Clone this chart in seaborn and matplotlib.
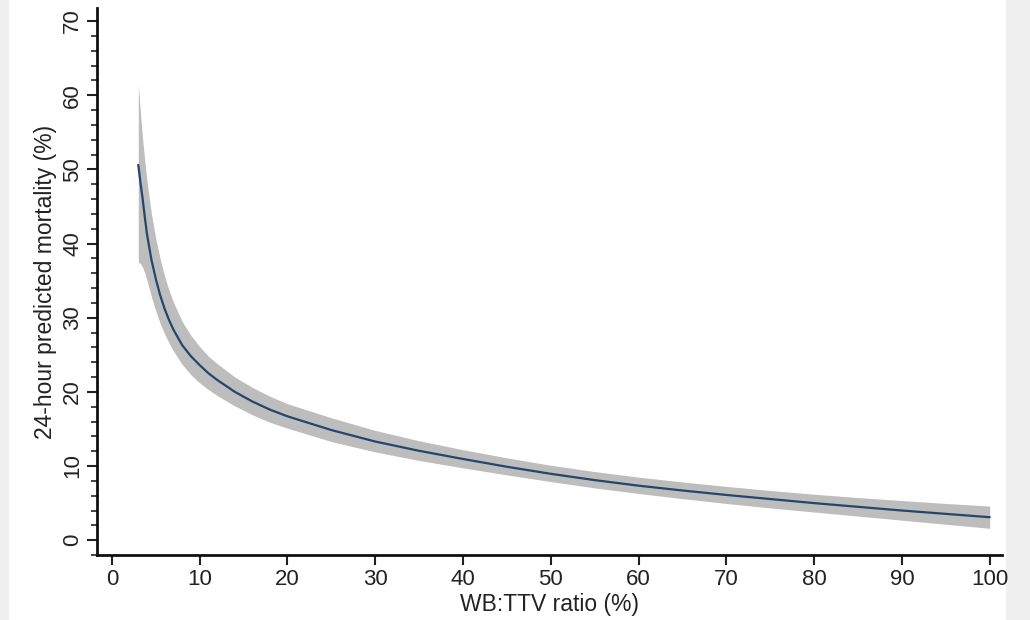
import numpy as np
import pandas as pd
import matplotlib
matplotlib.use("Agg")
import matplotlib.pyplot as plt
from matplotlib.patches import Rectangle
from matplotlib.ticker import MultipleLocator
import seaborn as sns

sns.set_style("white")
plt.rcParams['font.family'] = ['Liberation Sans', 'DejaVu Sans']

# values
ratio = [3, 3.25, 3.5, 3.75, 4, 4.5, 5, 5.5, 6, 6.5, 7, 8, 9, 10, 11, 12, 14, 16,
         18, 20, 25, 30, 35, 40, 45, 50, 55, 60, 65, 70, 75, 80, 85, 90, 95, 100]
mortality = [50.6, 48.2, 46.0, 43.5, 41.2, 37.8, 35.2, 33.0, 31.2, 29.7, 28.4,
             26.3, 24.8, 23.6, 22.5, 21.6, 20.0, 18.7, 17.6, 16.7, 14.85, 13.3,
             12.05, 10.95, 9.9, 8.95, 8.1, 7.35, 6.7, 6.1, 5.55, 5.0, 4.5, 4.0,
             3.55, 3.1]
upper = [61.5, 57.5, 54.0, 51.0, 48.3, 44.0, 40.6, 37.9, 35.6, 33.7, 32.1, 29.5,
         27.6, 26.1, 24.8, 23.8, 22.0, 20.6, 19.4, 18.4, 16.5, 14.8, 13.4, 12.2,
         11.1, 10.1, 9.25, 8.5, 7.85, 7.25, 6.7, 6.2, 5.75, 5.35, 4.95, 4.6]
lower = [37.5, 37.3, 36.8, 36.0, 35.0, 32.8, 30.9, 29.2, 27.8, 26.6, 25.5, 23.7,
         22.3, 21.2, 20.3, 19.5, 18.1, 16.9, 15.9, 15.1, 13.3, 11.9, 10.75, 9.75,
         8.8, 7.9, 7.05, 6.3, 5.6, 4.95, 4.35, 3.8, 3.25, 2.7, 2.15, 1.6]

df = pd.DataFrame({'ratio': ratio, 'mortality': mortality, 'upper': upper, 'lower': lower})

fig = plt.figure(figsize=(10.3, 6.2), dpi=100)
fig.patch.set_facecolor('white')
# light gray side strips from the screenshot
fig.patches.append(Rectangle((0, 0), 8 / 1030, 1, transform=fig.transFigure,
                             color='#f0f0f0', zorder=-5))
fig.patches.append(Rectangle((1006 / 1030, 0), 24 / 1030, 1, transform=fig.transFigure,
                             color='#f0f0f0', zorder=-5))

ax = fig.add_axes([0.0942, 0.1048, 0.8786, 0.8822])
ax.set_facecolor('none')
ax.fill_between(df['ratio'], df['lower'], df['upper'], color='#bdbdbd', lw=0, zorder=1)
sns.lineplot(data=df, x='ratio', y='mortality', ax=ax, color='#24466a', lw=1.6, zorder=2)

ax.set_xlim(-1.7, 101.4)
ax.set_ylim(-2.0, 71.75)
ax.set_xticks(range(0, 101, 10))
ax.set_yticks(range(0, 71, 10))
ax.yaxis.set_minor_locator(MultipleLocator(2))
ax.tick_params(axis='both', which='major', direction='out', length=7, width=1.5,
               labelsize=16, colors='#222222', bottom=True, left=True, pad=3)
ax.tick_params(axis='y', which='minor', direction='out', length=4, width=1.2,
               left=True, colors='#222222')
plt.setp(ax.get_yticklabels(), rotation=90, va='center')

for side in ['top', 'right']:
    ax.spines[side].set_visible(False)
for side in ['left', 'bottom']:
    ax.spines[side].set_linewidth(2)
    ax.spines[side].set_color('#111111')

ax.set_xlabel('WB:TTV ratio (%)', fontsize=16.5, color='#222222', labelpad=2)
ax.set_ylabel('24-hour predicted mortality (%)', fontsize=16.5, color='#222222', labelpad=4)

fig.savefig('out.png', dpi=100)
